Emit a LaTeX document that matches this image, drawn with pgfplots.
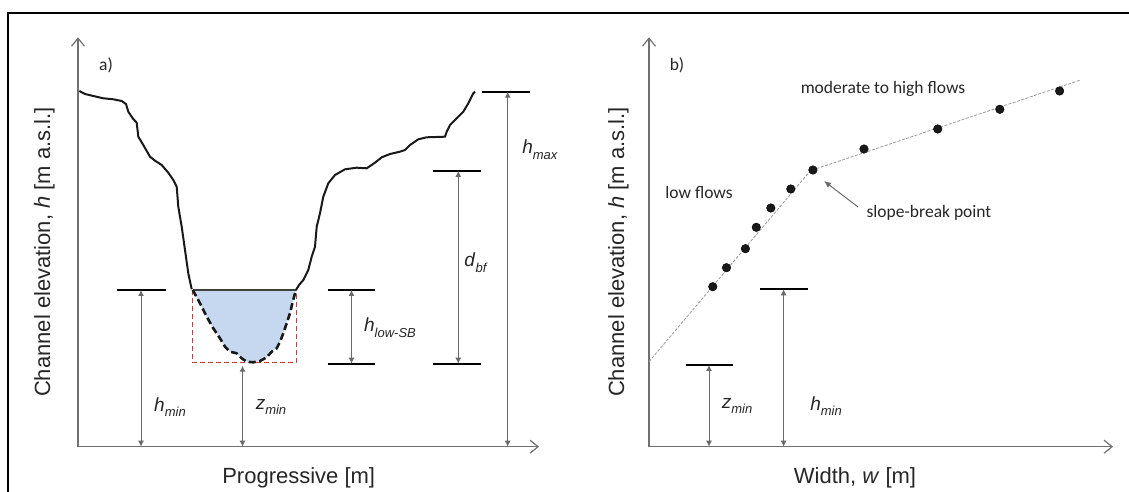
\documentclass[border=0pt]{standalone}
\usepackage{fontspec}
\setmainfont{Liberation Sans}
\newfontfamily\calfont{Carlito}
\usepackage{pgfplots}
\pgfplotsset{compat=1.18}
\usetikzlibrary{arrows.meta}
\definecolor{axgray}{HTML}{707070}
\definecolor{arrgray}{HTML}{6A6A6A}
\definecolor{water}{HTML}{C6D8EF}
\definecolor{rdash}{HTML}{D8383C}
\newcommand\lab[2]{\textit{#1}\raisebox{-0.3em}{\fontsize{13}{13}\selectfont\textit{#2}}}
\tikzset{
 dim/.style={draw=arrgray, line width=1pt,
   {Latex[length=6pt,width=6pt]}-{Latex[length=6pt,width=6pt]}},
 bar/.style={draw=black, line width=1.7pt},
 note/.style={font=\calfont\fontsize{17.5}{20}\selectfont, text=black!85},
 sym/.style={font=\fontsize{19}{22}\selectfont, text=black!85}
}
\pgfplotsset{
 panel/.style={x=1pt,y=1pt, axis lines=left, clip=false, enlargelimits=false,
   xtick=\empty, ytick=\empty, ymin=45.3, ymax=454.7,
   axis line style={draw=axgray, line width=1.2pt,
     -{Straight Barb[length=8pt,width=13pt,line width=1.2pt]}},
   anchor=south west,
   label style={font=\fontsize{22}{26}\selectfont, text=black!85}}
}
\begin{document}
\begin{tikzpicture}
\useasboundingbox (0,0) rectangle (1129pt,492pt);
\draw[line width=1.8pt] (8.3pt,0pt) -- (8.3pt,478.7pt) -- (1129pt,478.7pt);
% ---------------- panel a ----------------
\begin{axis}[panel, at={(78pt,45.3pt)}, xmin=78, xmax=539,
  xlabel={Progressive [m]}, ylabel={Channel elevation, \textit{h} [m a.s.l.]},
  xlabel style={at={(axis cs:298.7,8.5)}, anchor=base},
  ylabel style={at={(axis cs:50,240)}, anchor=base}]
% water area
\addplot[fill=water, draw=none] coordinates {
(192.7,202) (200,188.7) (206.7,175.3) (213.3,163.7) (220,153.7) (225,145.3)
(230,140.3) (236.7,138.7) (241.7,133.7) (246.7,130.3) (253.3,129.7) (260,131)
(266.7,134.7) (271.7,140.3) (276.7,143.7) (280,150.3) (283.3,158.7) (286.7,168.7)
(290,178.7) (292.7,190.3) (296,202)} -- cycle;
% red dashed box
\addplot[draw=rdash, line width=1pt, dash pattern=on 5pt off 3pt] coordinates {
(192.7,202) (192.7,129.3) (296,129.3) (296,202)};
% water line
\addplot[draw=black!75, line width=1.5pt] coordinates {(192.7,202) (296,202)};
% dashed channel bed
\addplot[draw=black!90, line width=2.6pt, dash pattern=on 7pt off 3.5pt] coordinates {
(192.7,202) (200,188.7) (206.7,175.3) (213.3,163.7) (220,153.7) (225,145.3)
(230,140.3) (236.7,138.7) (241.7,133.7) (246.7,130.3) (253.3,129.7) (260,131)
(266.7,134.7) (271.7,140.3) (276.7,143.7) (280,150.3) (283.3,158.7) (286.7,168.7)
(290,178.7) (292.7,190.3) (296,202)};
% left bank
\addplot[draw=black!90, line width=2pt] coordinates {
(79.3,401) (85,398) (93.3,396) (103.3,393.7) (113.3,392.7) (121.7,391) (126,388)
(128.3,380.3) (132.7,373.7) (136.7,369.3) (138.3,355.3) (143.3,347) (150,335.3)
(155,331.3) (161.7,327) (168.3,319.3) (173.3,312) (176.7,305.3) (178.3,285.3)
(181.7,265.3) (185,242) (188.3,218.7) (191.7,202.7)};
% right bank
\addplot[draw=black!90, line width=2pt] coordinates {
(296,202) (299,207) (303.3,212) (308.3,222) (311.7,235.3) (315,245.3) (316.7,265.3)
(320,278.7) (323.3,295.3) (328.3,308.7) (335,317) (345,322.7) (356.7,324.3)
(366.7,323.7) (375,329.3) (381.7,334.7) (390,338) (400,340.3) (405,342) (410,347)
(418.3,352.7) (426.7,354.7) (445,355.3) (446.7,360.3) (450,367) (456.7,373.7)
(463.3,380.3) (468.3,388.7) (473.3,398.7) (475,400.3)};
% reference bars
\draw[bar] (117.3,202) -- (165.7,202);
\draw[bar] (327.7,202) -- (375,202);
\draw[bar] (327.7,128.3) -- (375,128.3);
\draw[bar] (433.3,321) -- (480.7,321);
\draw[bar] (433.3,128.3) -- (480.7,128.3);
\draw[bar] (481.7,400.3) -- (530,400.3);
% dimension arrows
\draw[dim] (141,202) -- (141,45.3);
\draw[dim] (242.5,126.3) -- (242.5,45.3);
\draw[dim] (351.5,202) -- (351.5,128.3);
\draw[dim] (458.3,321) -- (458.3,128.3);
\draw[dim] (507.7,400.3) -- (507.7,45.3);
% labels
\node[note] at (106,427) {a)};
\node[sym] at (170,85) {\lab{h}{min}};
\node[sym] at (271,85) {\lab{z}{min}};
\node[sym] at (390,164) {\lab{h}{low-SB}};
\node[sym] at (476,229) {\lab{d}{bf}};
\node[sym] at (540,342) {\lab{h}{max}};
\end{axis}
% ---------------- panel b ----------------
\begin{axis}[panel, at={(649pt,45.3pt)}, xmin=649, xmax=1113,
  xlabel={Width, \textit{w} [m]}, ylabel={Channel elevation, \textit{h} [m a.s.l.]},
  xlabel style={at={(axis cs:855,8.5)}, anchor=base},
  ylabel style={at={(axis cs:624,240)}, anchor=base}]
\addplot[only marks, mark=*, mark size=4.3pt, black, mark options={fill=black!90}] coordinates {
(712.8,205.3) (726.5,224.3) (745.4,243.3) (756.3,264.7) (770.8,284) (790.8,303)
(812.9,322) (864,343) (937.7,363) (999.8,382.7) (1059.6,401)};
\addplot[draw=black!40, line width=0.8pt, dash pattern=on 3pt off 1.5pt] coordinates {
(649,130.3) (810.4,321.3) (1080.7,412)};
\draw[bar] (686,127) -- (732.7,127);
\draw[bar] (760,202.7) -- (808.2,202.7);
\draw[dim] (709,127) -- (709,45.3);
\draw[dim] (783.6,202.7) -- (783.6,45.3);
\draw[draw=arrgray, line width=1pt, -{Latex[length=7pt,width=6pt]}] (858,285) -- (824,311);
\node[note] at (677,427) {b)};
\node[note] at (883,403) {moderate to high flows};
\node[note] at (699,300) {low flows};
\node[note] at (929,279) {slope-break point};
\node[sym] at (737,86) {\lab{z}{min}};
\node[sym] at (826,86) {\lab{h}{min}};
\end{axis}
\end{tikzpicture}
\end{document}
